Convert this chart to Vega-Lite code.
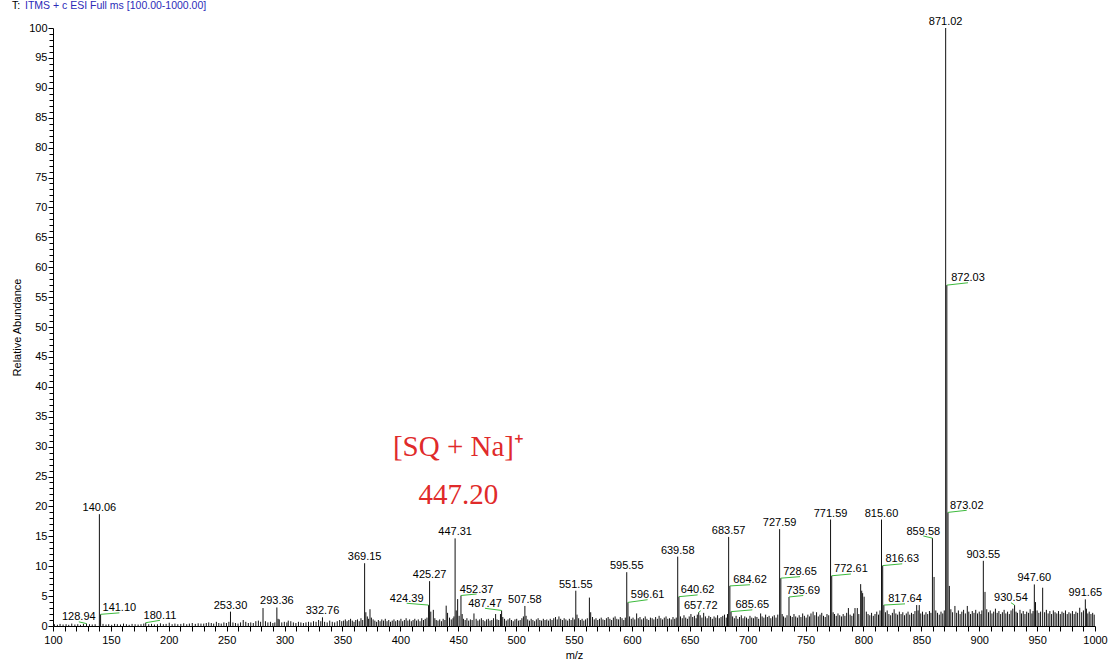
{
  "$schema": "https://vega.github.io/schema/vega-lite/v6.json",
  "width": 1042,
  "height": 598,
  "autosize": {"type": "none"},
  "padding": {"left": 53, "top": 28, "right": 15, "bottom": 38},
  "background": "white",
  "config": {
    "view": {"stroke": null},
    "font": "Liberation Sans",
    "axis": {
      "grid": false,
      "domainColor": "#000000",
      "domainWidth": 1,
      "tickColor": "#000000",
      "tickWidth": 1,
      "labelColor": "#000000",
      "titleColor": "#000000",
      "labelFont": "Liberation Sans",
      "titleFont": "Liberation Sans",
      "labelFontSize": 11,
      "titleFontSize": 11,
      "titleFontWeight": "normal",
      "labelOverlap": false,
      "labelFlush": false,
      "labelBound": false
    }
  },
  "datasets": {
    "spectrum": [
      {"mz":101.2,"abundance":0.3},{"mz":103.8,"abundance":0.2},{"mz":106.1,"abundance":0.35},{"mz":108.7,"abundance":0.25},{"mz":111.3,"abundance":0.3},{"mz":113.6,"abundance":0.2},{"mz":116.2,"abundance":0.4},{"mz":118.9,"abundance":0.25},{"mz":121.4,"abundance":0.3},{"mz":123.7,"abundance":0.2},{"mz":126.3,"abundance":0.35},{"mz":128.94,"abundance":0.4},{"mz":131.5,"abundance":0.3},{"mz":133.9,"abundance":0.25},{"mz":136.4,"abundance":0.3},
      {"mz":140.06,"abundance":18.7},{"mz":141.10,"abundance":1.95},
      {"mz":143.2,"abundance":0.35},{"mz":145.8,"abundance":0.25},{"mz":148.1,"abundance":0.3},{"mz":150.7,"abundance":0.2},{"mz":153.2,"abundance":0.35},{"mz":155.6,"abundance":0.3},{"mz":158.3,"abundance":0.25},{"mz":160.9,"abundance":0.4},{"mz":163.4,"abundance":0.3},{"mz":165.8,"abundance":0.2},{"mz":168.3,"abundance":0.35},{"mz":170.9,"abundance":0.3},{"mz":173.5,"abundance":0.25},{"mz":176.0,"abundance":0.3},{"mz":178.4,"abundance":0.4},{"mz":180.11,"abundance":0.55},{"mz":182.7,"abundance":0.3},{"mz":185.1,"abundance":0.35},{"mz":187.6,"abundance":0.25},{"mz":190.2,"abundance":0.3},{"mz":192.8,"abundance":0.45},{"mz":195.3,"abundance":0.3},{"mz":197.7,"abundance":0.35},{"mz":200.4,"abundance":0.55},{"mz":202.9,"abundance":0.3},{"mz":205.3,"abundance":0.4},{"mz":207.8,"abundance":0.3},{"mz":210.4,"abundance":0.35},{"mz":212.9,"abundance":0.45},{"mz":215.5,"abundance":0.3},{"mz":217.8,"abundance":0.4},{"mz":220.3,"abundance":0.5},{"mz":222.9,"abundance":0.35},{"mz":225.4,"abundance":0.45},{"mz":227.8,"abundance":0.4},
      {"mz":230.2,"abundance":0.4},{"mz":232.4,"abundance":0.5},{"mz":234.5,"abundance":0.6},{"mz":236.7,"abundance":0.5},{"mz":238.8,"abundance":0.4},{"mz":241.1,"abundance":0.7},{"mz":243.2,"abundance":0.5},{"mz":245.3,"abundance":0.4},{"mz":247.6,"abundance":0.6},{"mz":249.8,"abundance":0.5},{"mz":251.9,"abundance":0.7},{"mz":253.30,"abundance":2.4},{"mz":255.4,"abundance":0.6},{"mz":257.6,"abundance":0.5},{"mz":259.8,"abundance":0.4},{"mz":262.0,"abundance":0.6},{"mz":264.3,"abundance":1.0},{"mz":266.5,"abundance":0.7},{"mz":268.7,"abundance":0.5},{"mz":270.8,"abundance":0.6},{"mz":273.0,"abundance":0.5},{"mz":275.2,"abundance":0.8},{"mz":277.4,"abundance":0.9},{"mz":279.3,"abundance":0.7},{"mz":281.4,"abundance":3.0},{"mz":283.5,"abundance":0.8},{"mz":285.6,"abundance":0.6},{"mz":287.8,"abundance":0.7},{"mz":289.9,"abundance":0.5},{"mz":291.6,"abundance":0.6},{"mz":293.36,"abundance":3.1},{"mz":294.4,"abundance":1.2},{"mz":295.4,"abundance":1.1},{"mz":297.6,"abundance":0.6},{"mz":299.8,"abundance":0.7},{"mz":302.0,"abundance":0.6},{"mz":303.2,"abundance":0.9},{"mz":305.4,"abundance":0.8},{"mz":307.6,"abundance":0.6},{"mz":309.8,"abundance":0.5},{"mz":312.0,"abundance":0.7},{"mz":314.1,"abundance":0.6},{"mz":316.3,"abundance":0.5},{"mz":318.5,"abundance":0.6},{"mz":320.7,"abundance":0.7},{"mz":322.8,"abundance":0.6},{"mz":325.0,"abundance":0.8},{"mz":327.2,"abundance":0.7},{"mz":329.4,"abundance":1.0},{"mz":331.3,"abundance":0.8},{"mz":332.76,"abundance":1.45},{"mz":334.6,"abundance":0.7},{"mz":336.8,"abundance":0.6},{"mz":339.0,"abundance":0.9},{"mz":341.2,"abundance":0.7},{"mz":343.3,"abundance":0.6},{"mz":345.5,"abundance":0.8},{"mz":347.6,"abundance":1.0},{"mz":349.4,"abundance":0.8},
      {"mz":351.0,"abundance":0.9},{"mz":352.5,"abundance":1.1},{"mz":354.0,"abundance":0.8},{"mz":355.5,"abundance":1.0},{"mz":357.0,"abundance":1.2},{"mz":358.5,"abundance":0.9},{"mz":360.0,"abundance":0.7},{"mz":361.5,"abundance":1.0},{"mz":363.0,"abundance":1.1},{"mz":364.5,"abundance":0.8},{"mz":366.0,"abundance":1.3},{"mz":367.5,"abundance":1.0},{"mz":369.15,"abundance":10.5},{"mz":370.2,"abundance":2.3},{"mz":371.5,"abundance":1.6},{"mz":372.6,"abundance":1.2},{"mz":373.8,"abundance":2.8},{"mz":375.0,"abundance":1.4},{"mz":376.5,"abundance":1.1},{"mz":378.0,"abundance":0.9},{"mz":379.5,"abundance":0.7},{"mz":381.0,"abundance":1.0},{"mz":382.5,"abundance":0.8},{"mz":384.0,"abundance":1.1},{"mz":385.5,"abundance":0.9},{"mz":387.0,"abundance":1.2},{"mz":388.5,"abundance":0.8},{"mz":390.0,"abundance":1.0},{"mz":391.5,"abundance":0.7},{"mz":393.0,"abundance":0.9},{"mz":394.5,"abundance":1.1},{"mz":396.0,"abundance":0.8},{"mz":397.5,"abundance":1.0},{"mz":399.0,"abundance":0.9},{"mz":400.5,"abundance":1.2},{"mz":402.0,"abundance":0.8},{"mz":403.5,"abundance":1.0},{"mz":405.0,"abundance":1.3},{"mz":406.5,"abundance":0.9},{"mz":408.0,"abundance":1.1},{"mz":409.5,"abundance":0.8},{"mz":411.0,"abundance":1.0},{"mz":412.5,"abundance":1.2},{"mz":414.0,"abundance":0.9},{"mz":415.5,"abundance":1.1},{"mz":417.0,"abundance":0.8},{"mz":418.5,"abundance":1.3},{"mz":420.0,"abundance":1.0},{"mz":421.5,"abundance":1.2},{"mz":423.0,"abundance":1.4},{"mz":424.39,"abundance":3.5},{"mz":425.27,"abundance":7.5},{"mz":426.3,"abundance":2.4},{"mz":428.5,"abundance":2.7},{"mz":429.8,"abundance":1.3},{"mz":431.0,"abundance":1.0},{"mz":432.5,"abundance":0.9},{"mz":434.0,"abundance":1.1},{"mz":435.5,"abundance":0.8},{"mz":437.0,"abundance":1.2},{"mz":438.5,"abundance":1.0},{"mz":439.6,"abundance":3.4},{"mz":440.8,"abundance":2.2},{"mz":442.5,"abundance":1.4},{"mz":444.0,"abundance":1.1},{"mz":445.5,"abundance":1.3},{"mz":446.3,"abundance":1.6},{"mz":447.31,"abundance":14.65},{"mz":448.3,"abundance":2.6},{"mz":449.5,"abundance":4.5},{"mz":450.8,"abundance":1.7},{"mz":452.37,"abundance":5.1},{"mz":453.4,"abundance":2.0},
      {"mz":454.5,"abundance":1.2},{"mz":456.0,"abundance":1.0},{"mz":457.5,"abundance":1.3},{"mz":459.0,"abundance":0.9},{"mz":460.5,"abundance":1.1},{"mz":462.0,"abundance":1.0},{"mz":463.6,"abundance":2.1},{"mz":465.5,"abundance":1.2},{"mz":467.0,"abundance":0.9},{"mz":468.5,"abundance":1.1},{"mz":470.0,"abundance":1.3},{"mz":471.5,"abundance":1.0},{"mz":473.0,"abundance":0.8},{"mz":474.5,"abundance":1.1},{"mz":476.0,"abundance":1.2},{"mz":477.5,"abundance":0.9},{"mz":479.0,"abundance":1.0},{"mz":480.5,"abundance":1.3},{"mz":482.3,"abundance":2.0},{"mz":483.5,"abundance":1.1},{"mz":485.0,"abundance":1.0},{"mz":486.5,"abundance":2.0},{"mz":487.47,"abundance":2.6},{"mz":488.5,"abundance":1.5},{"mz":490.0,"abundance":1.2},{"mz":491.5,"abundance":0.9},{"mz":493.0,"abundance":1.1},{"mz":494.5,"abundance":1.3},{"mz":496.0,"abundance":1.0},{"mz":497.5,"abundance":0.8},{"mz":499.0,"abundance":1.1},{"mz":500.5,"abundance":1.2},{"mz":502.0,"abundance":0.9},{"mz":503.5,"abundance":1.0},{"mz":505.0,"abundance":1.3},{"mz":506.3,"abundance":1.6},{"mz":507.58,"abundance":3.35},{"mz":508.6,"abundance":1.7},{"mz":510.0,"abundance":1.1},{"mz":511.5,"abundance":0.9},{"mz":513.0,"abundance":1.2},{"mz":514.5,"abundance":1.0},{"mz":516.0,"abundance":0.8},{"mz":517.5,"abundance":1.1},{"mz":519.0,"abundance":1.3},{"mz":520.5,"abundance":1.0},{"mz":522.0,"abundance":0.9},{"mz":523.5,"abundance":1.2},{"mz":525.0,"abundance":1.0},{"mz":526.5,"abundance":1.1},{"mz":528.0,"abundance":0.9},{"mz":529.5,"abundance":1.2},{"mz":531.0,"abundance":1.0},{"mz":532.5,"abundance":1.3},{"mz":534.0,"abundance":1.5},{"mz":535.5,"abundance":1.1},{"mz":537.0,"abundance":1.6},{"mz":538.5,"abundance":1.2},{"mz":540.0,"abundance":1.0},{"mz":541.5,"abundance":1.3},{"mz":543.0,"abundance":1.1},{"mz":544.5,"abundance":0.9},{"mz":546.0,"abundance":1.2},{"mz":547.5,"abundance":1.0},{"mz":549.0,"abundance":1.4},{"mz":550.3,"abundance":1.1},{"mz":551.55,"abundance":5.9},{"mz":552.6,"abundance":1.9},{"mz":554.0,"abundance":1.3},{"mz":555.5,"abundance":1.0},{"mz":557.0,"abundance":1.2},{"mz":558.5,"abundance":0.9},{"mz":560.0,"abundance":1.1},{"mz":561.5,"abundance":1.3},{"mz":563.3,"abundance":4.75},{"mz":564.4,"abundance":2.3},{"mz":566.0,"abundance":1.5},{"mz":567.5,"abundance":1.1},{"mz":569.0,"abundance":1.3},{"mz":570.5,"abundance":1.0},{"mz":572.0,"abundance":1.2},{"mz":573.5,"abundance":1.4},{"mz":575.0,"abundance":1.1},{"mz":576.5,"abundance":1.0},{"mz":578.0,"abundance":1.3},{"mz":579.5,"abundance":1.5},{"mz":581.0,"abundance":1.2},{"mz":582.5,"abundance":1.0},{"mz":584.0,"abundance":1.4},{"mz":585.5,"abundance":1.6},{"mz":587.0,"abundance":1.2},{"mz":588.5,"abundance":1.1},{"mz":590.0,"abundance":1.5},{"mz":591.5,"abundance":1.3},{"mz":593.0,"abundance":1.0},{"mz":594.3,"abundance":1.4},{"mz":595.55,"abundance":9.0},{"mz":596.61,"abundance":3.95},{"mz":598.0,"abundance":1.6},{"mz":599.5,"abundance":1.2},
      {"mz":601.0,"abundance":1.4},{"mz":602.5,"abundance":1.1},{"mz":604.1,"abundance":2.1},{"mz":605.5,"abundance":1.3},{"mz":607.0,"abundance":1.5},{"mz":608.5,"abundance":1.1},{"mz":610.0,"abundance":1.3},{"mz":611.5,"abundance":1.6},{"mz":613.0,"abundance":1.2},{"mz":614.5,"abundance":1.0},{"mz":616.0,"abundance":1.4},{"mz":617.5,"abundance":1.3},{"mz":619.0,"abundance":1.1},{"mz":620.5,"abundance":1.5},{"mz":622.0,"abundance":1.2},{"mz":623.5,"abundance":1.7},{"mz":625.0,"abundance":1.3},{"mz":626.5,"abundance":1.1},{"mz":628.0,"abundance":1.4},{"mz":629.5,"abundance":1.6},{"mz":631.0,"abundance":1.2},{"mz":632.5,"abundance":1.3},{"mz":634.0,"abundance":1.1},{"mz":635.5,"abundance":1.5},{"mz":637.0,"abundance":1.2},{"mz":638.3,"abundance":1.4},{"mz":639.58,"abundance":11.6},{"mz":640.62,"abundance":4.9},{"mz":642.0,"abundance":1.6},{"mz":643.5,"abundance":1.3},{"mz":645.0,"abundance":1.8},{"mz":646.5,"abundance":1.4},{"mz":648.0,"abundance":1.2},{"mz":649.5,"abundance":1.6},{"mz":651.0,"abundance":2.0},{"mz":652.5,"abundance":1.5},{"mz":654.0,"abundance":1.7},{"mz":655.5,"abundance":1.3},{"mz":656.5,"abundance":1.9},{"mz":657.72,"abundance":2.3},{"mz":659.0,"abundance":1.8},{"mz":660.5,"abundance":1.4},{"mz":662.0,"abundance":2.2},{"mz":663.5,"abundance":1.6},{"mz":665.0,"abundance":1.3},{"mz":666.5,"abundance":1.7},{"mz":668.0,"abundance":1.5},{"mz":669.5,"abundance":1.2},{"mz":671.0,"abundance":1.6},{"mz":672.5,"abundance":1.4},{"mz":674.0,"abundance":1.8},{"mz":675.5,"abundance":1.3},{"mz":677.0,"abundance":1.5},{"mz":678.5,"abundance":1.7},{"mz":680.0,"abundance":1.9},{"mz":681.5,"abundance":1.4},{"mz":682.6,"abundance":2.0},{"mz":683.57,"abundance":14.9},{"mz":684.62,"abundance":6.7},{"mz":685.65,"abundance":2.4},
      {"mz":687.0,"abundance":1.6},{"mz":688.5,"abundance":1.3},{"mz":690.0,"abundance":1.7},{"mz":691.5,"abundance":1.2},{"mz":693.0,"abundance":1.5},{"mz":694.5,"abundance":1.8},{"mz":696.0,"abundance":1.3},{"mz":697.5,"abundance":1.6},{"mz":699.0,"abundance":1.4},{"mz":700.5,"abundance":1.2},{"mz":702.0,"abundance":1.7},{"mz":703.5,"abundance":1.4},{"mz":705.0,"abundance":1.3},{"mz":706.5,"abundance":1.6},{"mz":708.0,"abundance":1.5},{"mz":709.5,"abundance":1.2},{"mz":711.2,"abundance":2.1},{"mz":712.5,"abundance":1.6},{"mz":714.0,"abundance":1.4},{"mz":715.5,"abundance":1.9},{"mz":717.0,"abundance":1.5},{"mz":718.5,"abundance":1.7},{"mz":720.0,"abundance":1.3},{"mz":721.5,"abundance":1.6},{"mz":723.0,"abundance":1.8},{"mz":724.5,"abundance":1.4},{"mz":726.0,"abundance":1.9},{"mz":727.59,"abundance":16.2},{"mz":728.65,"abundance":8.0},{"mz":729.8,"abundance":2.0},{"mz":731.0,"abundance":1.6},{"mz":732.5,"abundance":1.4},{"mz":734.0,"abundance":1.8},{"mz":735.69,"abundance":4.85},{"mz":737.0,"abundance":1.7},{"mz":738.5,"abundance":1.5},{"mz":740.0,"abundance":2.0},{"mz":741.5,"abundance":1.6},{"mz":743.0,"abundance":1.4},{"mz":744.5,"abundance":1.8},{"mz":746.0,"abundance":1.5},{"mz":747.5,"abundance":2.1},{"mz":749.0,"abundance":1.7},{"mz":750.5,"abundance":1.4},{"mz":752.0,"abundance":1.9},{"mz":753.5,"abundance":1.6},{"mz":754.7,"abundance":2.1},{"mz":756.5,"abundance":2.4},{"mz":758.0,"abundance":1.8},{"mz":759.5,"abundance":2.3},{"mz":761.0,"abundance":1.6},{"mz":762.5,"abundance":1.9},{"mz":764.0,"abundance":2.2},{"mz":765.5,"abundance":1.7},{"mz":767.0,"abundance":1.5},{"mz":768.5,"abundance":2.0},{"mz":770.0,"abundance":1.8},{"mz":771.59,"abundance":17.8},{"mz":772.61,"abundance":8.4},{"mz":773.8,"abundance":2.3},{"mz":775.0,"abundance":2.0},{"mz":776.5,"abundance":1.7},{"mz":778.0,"abundance":2.1},{"mz":779.5,"abundance":1.8},{"mz":781.0,"abundance":1.6},{"mz":782.5,"abundance":2.0},{"mz":784.0,"abundance":1.7},{"mz":785.5,"abundance":2.2},{"mz":787.0,"abundance":3.0},{"mz":788.5,"abundance":1.9},{"mz":790.0,"abundance":1.7},{"mz":791.5,"abundance":2.1},{"mz":792.7,"abundance":3.0},{"mz":794.7,"abundance":3.0},{"mz":796.0,"abundance":2.0},{"mz":797.6,"abundance":7.0},{"mz":798.5,"abundance":5.9},{"mz":799.3,"abundance":5.5},{"mz":800.6,"abundance":4.9},
      {"mz":802.5,"abundance":2.4},{"mz":804.0,"abundance":2.0},{"mz":805.5,"abundance":1.8},{"mz":807.0,"abundance":2.2},{"mz":808.5,"abundance":1.7},{"mz":810.0,"abundance":2.0},{"mz":811.5,"abundance":2.4},{"mz":813.0,"abundance":1.9},{"mz":814.3,"abundance":2.6},{"mz":815.60,"abundance":17.8},{"mz":816.63,"abundance":10.1},{"mz":817.64,"abundance":3.5},{"mz":819.0,"abundance":2.3},{"mz":820.5,"abundance":2.6},{"mz":822.0,"abundance":2.0},{"mz":823.5,"abundance":1.8},{"mz":825.0,"abundance":2.2},{"mz":826.5,"abundance":2.8},{"mz":828.0,"abundance":2.1},{"mz":829.5,"abundance":1.9},{"mz":831.0,"abundance":2.4},{"mz":832.5,"abundance":2.0},{"mz":834.0,"abundance":2.3},{"mz":835.5,"abundance":1.8},{"mz":837.0,"abundance":2.1},{"mz":838.5,"abundance":2.4},{"mz":840.0,"abundance":1.9},{"mz":841.5,"abundance":2.2},{"mz":843.0,"abundance":2.0},{"mz":844.5,"abundance":2.5},{"mz":846.0,"abundance":3.5},{"mz":847.2,"abundance":2.6},{"mz":848.2,"abundance":3.5},{"mz":849.5,"abundance":2.1},{"mz":851.0,"abundance":2.4},{"mz":852.5,"abundance":1.9},{"mz":854.0,"abundance":2.3},{"mz":855.5,"abundance":2.0},{"mz":857.0,"abundance":2.5},{"mz":858.3,"abundance":2.2},{"mz":859.58,"abundance":14.7},{"mz":861.0,"abundance":8.2},{"mz":862.5,"abundance":2.6},{"mz":864.0,"abundance":2.2},{"mz":865.5,"abundance":1.9},{"mz":867.0,"abundance":2.4},{"mz":868.5,"abundance":2.1},{"mz":869.8,"abundance":2.6},{"mz":871.02,"abundance":100},{"mz":872.03,"abundance":57.0},{"mz":873.02,"abundance":19.0},{"mz":874.2,"abundance":6.7},
      {"mz":875.5,"abundance":2.8},{"mz":877.0,"abundance":2.3},{"mz":879.0,"abundance":3.35},{"mz":880.5,"abundance":2.2},{"mz":882.0,"abundance":2.6},{"mz":883.5,"abundance":2.0},{"mz":885.0,"abundance":2.4},{"mz":886.5,"abundance":2.7},{"mz":888.0,"abundance":2.1},{"mz":889.7,"abundance":3.35},{"mz":891.0,"abundance":2.4},{"mz":892.5,"abundance":2.0},{"mz":894.0,"abundance":2.5},{"mz":895.5,"abundance":2.2},{"mz":897.0,"abundance":2.7},{"mz":898.5,"abundance":2.1},{"mz":900.0,"abundance":2.4},{"mz":901.5,"abundance":2.0},{"mz":902.3,"abundance":2.6},{"mz":903.55,"abundance":10.9},{"mz":905.0,"abundance":5.7},{"mz":906.5,"abundance":2.8},{"mz":908.0,"abundance":2.3},{"mz":909.5,"abundance":2.6},{"mz":911.0,"abundance":2.1},{"mz":912.5,"abundance":2.4},{"mz":914.0,"abundance":2.9},{"mz":915.5,"abundance":2.2},{"mz":917.0,"abundance":2.5},{"mz":918.5,"abundance":2.0},{"mz":920.0,"abundance":2.3},{"mz":921.5,"abundance":2.7},{"mz":923.0,"abundance":2.1},{"mz":924.5,"abundance":2.4},{"mz":926.0,"abundance":2.0},{"mz":927.5,"abundance":2.6},{"mz":929.0,"abundance":2.9},{"mz":930.54,"abundance":3.5},{"mz":931.8,"abundance":2.4},{"mz":933.0,"abundance":2.2},{"mz":935.2,"abundance":2.7},{"mz":936.5,"abundance":2.1},{"mz":938.0,"abundance":2.5},{"mz":939.5,"abundance":2.0},{"mz":941.0,"abundance":2.4},{"mz":942.5,"abundance":2.2},{"mz":944.0,"abundance":2.8},{"mz":945.5,"abundance":2.1},{"mz":946.5,"abundance":2.5},{"mz":947.60,"abundance":6.95},{"mz":948.6,"abundance":4.0},{"mz":950.0,"abundance":2.6},{"mz":951.5,"abundance":2.2},{"mz":953.0,"abundance":2.4},{"mz":954.8,"abundance":6.4},{"mz":956.5,"abundance":2.3},{"mz":958.0,"abundance":2.7},{"mz":959.5,"abundance":2.1},{"mz":961.0,"abundance":2.5},{"mz":962.5,"abundance":2.0},{"mz":964.0,"abundance":2.6},{"mz":965.5,"abundance":2.3},{"mz":967.0,"abundance":2.1},{"mz":968.5,"abundance":2.5},{"mz":970.0,"abundance":2.0},{"mz":971.5,"abundance":2.4},{"mz":973.0,"abundance":2.2},{"mz":974.5,"abundance":2.6},{"mz":976.0,"abundance":2.0},{"mz":977.5,"abundance":2.3},{"mz":979.0,"abundance":2.1},{"mz":980.5,"abundance":2.5},{"mz":982.0,"abundance":2.0},{"mz":983.5,"abundance":2.4},{"mz":985.0,"abundance":2.2},{"mz":986.8,"abundance":3.05},{"mz":988.5,"abundance":2.3},{"mz":990.0,"abundance":2.6},{"mz":991.65,"abundance":4.45},{"mz":992.6,"abundance":2.9},{"mz":993.8,"abundance":2.1},{"mz":995.0,"abundance":2.4},{"mz":996.5,"abundance":2.0},{"mz":998.0,"abundance":2.2},{"mz":999.3,"abundance":1.9}
    ],
    "peakLabels": [
      {"mz":871.02,"abundance":100},{"mz":140.06,"abundance":18.7},{"mz":253.30,"abundance":2.4},{"mz":293.36,"abundance":3.1},{"mz":332.76,"abundance":1.45},{"mz":369.15,"abundance":10.5},{"mz":425.27,"abundance":7.5},{"mz":447.31,"abundance":14.65},{"mz":507.58,"abundance":3.35},{"mz":551.55,"abundance":5.9},{"mz":595.55,"abundance":9.0},{"mz":639.58,"abundance":11.6},{"mz":683.57,"abundance":14.9},{"mz":727.59,"abundance":16.2},{"mz":771.59,"abundance":17.8},{"mz":815.60,"abundance":17.8},{"mz":903.55,"abundance":10.9},{"mz":947.60,"abundance":6.95},{"mz":991.65,"abundance":4.45}
    ],
    "leaderLabels": [
      {"mz":872.03,"abundance":57.0,"labelMz":890.3,"labelAbundance":57.4},
      {"mz":873.02,"abundance":19.0,"labelMz":889.2,"labelAbundance":19.35},
      {"mz":141.10,"abundance":1.95,"labelMz":157.3,"labelAbundance":2.2},
      {"mz":128.94,"abundance":0.4,"labelMz":122.3,"labelAbundance":0.7},
      {"mz":180.11,"abundance":0.55,"labelMz":192.4,"labelAbundance":0.95},
      {"mz":424.39,"abundance":3.5,"labelMz":405.5,"labelAbundance":3.8},
      {"mz":452.37,"abundance":5.1,"labelMz":465.9,"labelAbundance":5.35},
      {"mz":487.47,"abundance":2.6,"labelMz":473.1,"labelAbundance":2.96},
      {"mz":596.61,"abundance":3.95,"labelMz":613.6,"labelAbundance":4.4},
      {"mz":640.62,"abundance":4.9,"labelMz":656.8,"labelAbundance":5.2},
      {"mz":657.72,"abundance":2.3,"labelMz":659.5,"labelAbundance":2.55},
      {"mz":684.62,"abundance":6.7,"labelMz":702.0,"labelAbundance":6.9},
      {"mz":685.65,"abundance":2.4,"labelMz":704.0,"labelAbundance":2.7},
      {"mz":728.65,"abundance":8.0,"labelMz":745.2,"labelAbundance":8.25},
      {"mz":735.69,"abundance":4.85,"labelMz":748.0,"labelAbundance":5.1},
      {"mz":772.61,"abundance":8.4,"labelMz":789.2,"labelAbundance":8.7},
      {"mz":816.63,"abundance":10.1,"labelMz":833.5,"labelAbundance":10.4},
      {"mz":817.64,"abundance":3.5,"labelMz":835.9,"labelAbundance":3.7},
      {"mz":859.58,"abundance":14.7,"labelMz":851.7,"labelAbundance":15.05},
      {"mz":930.54,"abundance":3.5,"labelMz":927.4,"labelAbundance":3.9}
    ],
    "ionNote": [
      {"note":"[SQ + Na]⁺","mz":450.2,"abundance":28.4},
      {"note":"447.20","mz":450.2,"abundance":20.4}
    ],
    "scanHeader": [
      {"part":"filter","text":"T:","mz":64.6,"abundance":103.7},
      {"part":"scan","text":"ITMS + c ESI Full ms [100.00-1000.00]","mz":75.8,"abundance":103.7}
    ]
  },
  "layer": [
    {
      "data": {"name": "spectrum"},
      "mark": {"type": "rule", "color": "#111111", "strokeWidth": 1},
      "encoding": {
        "x": {
          "field": "mz", "type": "quantitative",
          "scale": {"domain": [100, 1000], "nice": false, "zero": false},
          "axis": {
            "title": "m/z",
            "tickCount": 90,
            "format": "d",
            "labelExpr": "datum.value % 50 === 0 ? datum.label : ''",
            "tickSize": 5,
            "labelPadding": 3,
            "titlePadding": 4
          }
        },
        "y": {
          "field": "abundance", "type": "quantitative",
          "scale": {"domain": [0, 100], "nice": false},
          "axis": {
            "title": "Relative Abundance",
            "tickCount": 100,
            "format": "d",
            "labelExpr": "datum.value % 5 === 0 ? datum.label : ''",
            "tickSize": {"condition": {"test": "datum.value % 5 === 0", "value": 5}, "value": 4},
            "labelPadding": 1,
            "titlePadding": 6
          }
        },
        "y2": {"datum": 0}
      }
    },
    {
      "data": {"name": "peakLabels"},
      "mark": {"type": "text", "align": "center", "baseline": "alphabetic", "dy": -3, "fontSize": 11, "color": "#000000"},
      "encoding": {
        "x": {"field": "mz", "type": "quantitative"},
        "y": {"field": "abundance", "type": "quantitative"},
        "text": {"field": "mz", "type": "quantitative", "format": ".2f"}
      }
    },
    {
      "data": {"name": "leaderLabels"},
      "mark": {"type": "rule", "color": "#3dba3d", "strokeWidth": 1},
      "encoding": {
        "x": {"field": "mz", "type": "quantitative"},
        "y": {"field": "abundance", "type": "quantitative"},
        "x2": {"field": "labelMz"},
        "y2": {"field": "labelAbundance"}
      }
    },
    {
      "data": {"name": "leaderLabels"},
      "mark": {"type": "text", "align": "center", "baseline": "alphabetic", "dy": -1.5, "fontSize": 11, "color": "#000000"},
      "encoding": {
        "x": {"field": "labelMz", "type": "quantitative"},
        "y": {"field": "labelAbundance", "type": "quantitative"},
        "text": {"field": "mz", "type": "quantitative", "format": ".2f"}
      }
    },
    {
      "data": {"name": "ionNote"},
      "mark": {"type": "text", "align": "center", "baseline": "alphabetic", "font": "Liberation Serif", "fontSize": 29, "color": "#e02a2a"},
      "encoding": {
        "x": {"field": "mz", "type": "quantitative"},
        "y": {"field": "abundance", "type": "quantitative"},
        "text": {"field": "note"}
      }
    },
    {
      "data": {"name": "scanHeader"},
      "transform": [{"filter": "datum.part === 'filter'"}],
      "mark": {"type": "text", "align": "left", "baseline": "middle", "fontSize": 10.5, "color": "#000000"},
      "encoding": {
        "x": {"field": "mz", "type": "quantitative"},
        "y": {"field": "abundance", "type": "quantitative"},
        "text": {"field": "text"}
      }
    },
    {
      "data": {"name": "scanHeader"},
      "transform": [{"filter": "datum.part === 'scan'"}],
      "mark": {"type": "text", "align": "left", "baseline": "middle", "fontSize": 10.5, "color": "#2b2bb8"},
      "encoding": {
        "x": {"field": "mz", "type": "quantitative"},
        "y": {"field": "abundance", "type": "quantitative"},
        "text": {"field": "text"}
      }
    }
  ]
}
